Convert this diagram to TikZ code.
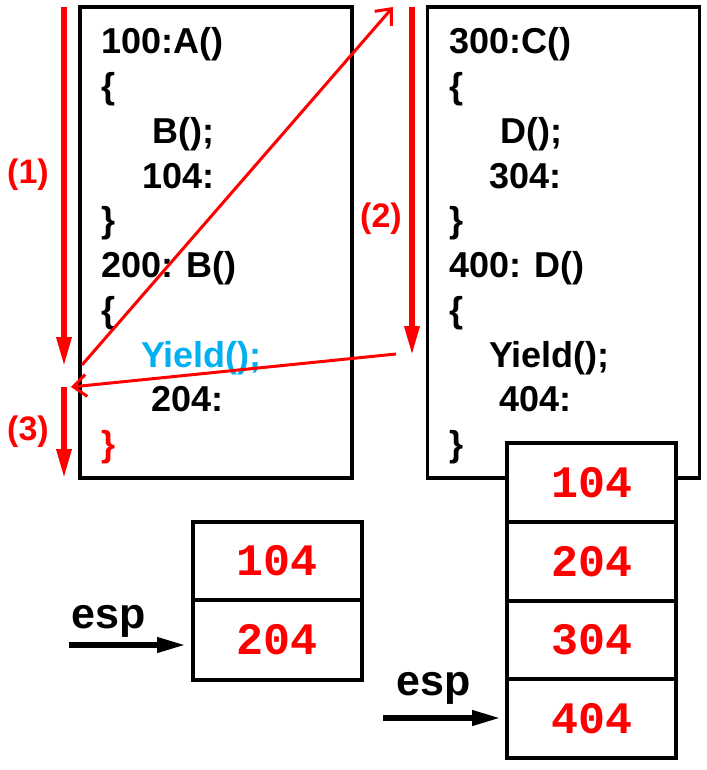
\documentclass[tikz,border=0pt]{standalone}
\usepackage{fontspec}
\setmainfont{Liberation Sans}
\newfontfamily\monofam{Liberation Mono}
\usetikzlibrary{arrows.meta}
\definecolor{cyanblue}{RGB}{0,176,240}
\begin{document}
\begin{tikzpicture}[x=1pt,y=-1pt,
  codebox/.style={draw=black,line width=3.5pt,minimum width=272pt,minimum height=471pt,inner sep=0pt},
  cell/.style={draw=black,fill=white,line width=3.5pt,minimum width=169pt,inner sep=0pt,
    text=red,font=\monofam\bfseries\fontsize{45}{48}\selectfont},
  code/.style={anchor=base west,inner sep=0pt,font=\bfseries\fontsize{36}{40}\selectfont},
  steplabel/.style={inner sep=0pt,text=red,font=\bfseries\fontsize{34}{38}\selectfont},
  esplabel/.style={anchor=base west,inner sep=0pt,font=\bfseries\fontsize{43}{46}\selectfont},
  bigred/.style={draw=red,line width=6pt,-{Triangle[length=30pt,width=14pt]}},
  thinred/.style={draw=red,line width=3pt,-{Straight Barb[length=13pt,width=22pt]}},
  esparrow/.style={draw=black,line width=6.5pt,-{Triangle[length=30pt,width=14pt]}}
]
\useasboundingbox (0,0) rectangle (706,770);
% code boxes
\node[codebox] (boxA) at (216,242.5) {};
\node[codebox] (boxC) at (563.5,242.5) {};
% left code
\node[code] (l1) at (101,54) {100:A()};
\node[code] (l2) at (101,98.7) {\{};
\node[code] (l3) at (152,143.4) {B();};
\node[code] (l4) at (142,188) {104:};
\node[code] (l5) at (101,232.8) {\}};
\node[code] (l6) at (101,277.5) {200: B()};
\node[code] (l7) at (101,322) {\{};
\node[code,text=cyanblue] (l8) at (141,367) {Yield();};
\node[code] (l9) at (151,411.6) {204:};
\node[code,text=red] (l10) at (101,456.3) {\}};
% right code
\node[code] (r1) at (449,54) {300:C()};
\node[code] (r2) at (449,98.7) {\{};
\node[code] (r3) at (500,143.4) {D();};
\node[code] (r4) at (489,188) {304:};
\node[code] (r5) at (449,232.8) {\}};
\node[code] (r6) at (449,277.5) {400: D()};
\node[code] (r7) at (449,322) {\{};
\node[code] (r8) at (489,367) {Yield();};
\node[code] (r9) at (499,411.6) {404:};
\node[code] (r10) at (449,456.3) {\}};
% stack 1
\node[cell,minimum height=78pt] (s1a) at (277.5,561) {104};
\node[cell,minimum height=80pt] (s1b) at (277.5,640) {204};
% stack 2
\node[cell,minimum height=79pt] (s2a) at (591.5,482.5) {104};
\node[cell,minimum height=79pt] (s2b) at (591.5,561.5) {204};
\node[cell,minimum height=78pt] (s2c) at (591.5,640) {304};
\node[cell,minimum height=79pt] (s2d) at (591.5,718.5) {404};
% esp
\node[esplabel] (esp1) at (71,628) {esp};
\node[esplabel] (esp2) at (396,695) {esp};
\coordinate (e1s) at (69,645);
\coordinate (e1e) at (187,645);
\coordinate (e2s) at (383,718);
\coordinate (e2e) at (502,718);
\draw[esparrow] (e1s) -- (e1e);
\draw[esparrow] (e2s) -- (e2e);
% red flow arrows
\coordinate (a1s) at (64,7);
\coordinate (a1e) at (64,367);
\coordinate (a3s) at (64,387);
\coordinate (a3e) at (64,479);
\coordinate (a2s) at (412,7);
\coordinate (a2e) at (412,356);
\draw[bigred] (a1s) -- (a1e);
\draw[bigred] (a3s) -- (a3e);
\draw[bigred] (a2s) -- (a2e);
\coordinate (d1s) at (82,365);
\coordinate (d1e) at (393,7);
\coordinate (d2s) at (396,354);
\coordinate (d2e) at (71,387);
\draw[thinred] (d1s) -- (d1e);
\draw[thinred] (d2s) -- (d2e);
\node[steplabel] (n1) at (28,175) {(1)};
\node[steplabel] (n2) at (381,219) {(2)};
\node[steplabel] (n3) at (28,432) {(3)};
\end{tikzpicture}
\end{document}
